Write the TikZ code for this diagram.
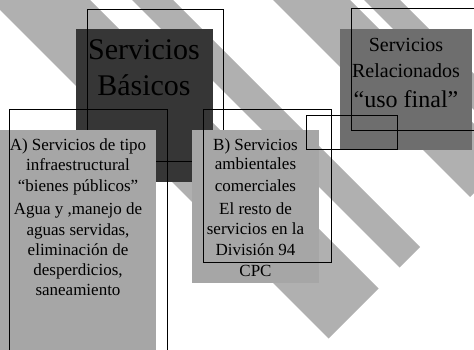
\documentclass[tikz,border=0pt]{standalone}
\usepackage{fontspec}
\setmainfont{Liberation Serif}
\definecolor{stripegray}{HTML}{B0B0B0}
\definecolor{panelgray}{HTML}{A6A6A6}
\definecolor{darkbox}{HTML}{363636}
\definecolor{midbox}{HTML}{6E6E6E}
\tikzset{
  stripe/.style={fill=stripegray, draw=none},
  panel/.style={draw=none, inner sep=0pt, outer sep=0pt, anchor=north west},
  frame/.style={draw=black, line width=0.9pt},
  txt/.style={anchor=base, inner sep=0pt, text=black},
  small/.style={txt, font=\fontsize{17}{20}\selectfont},
  mid/.style={txt, font=\fontsize{20}{24}\selectfont},
  big/.style={txt, font=\fontsize{30}{36}\selectfont},
}
\begin{document}
\begin{tikzpicture}[x=1pt,y=-1pt]
\useasboundingbox (0,0) rectangle (474,350);
\clip (0,0) rectangle (474,350);
% background stripes
\fill[stripe] (-20,-10) -- (80,-10) -- (378.5,288.5) -- (328.5,338.5) -- cycle;
\fill[stripe] (122,-10) -- (163,-10) -- (420,247) -- (399.5,267.5) -- cycle;
\fill[stripe] (263,-10) -- (340,-10) -- (508.5,158.5) -- (470,197) -- cycle;
\fill[stripe] (354,-10) -- (390,-10) -- (600,200) -- (564,200) -- cycle;
% dark box and its frame
\node[panel, fill=darkbox, minimum width=137, minimum height=153] (dark) at (76,29) {};
\draw[frame] (87,9) rectangle (223,161);
% medium box
\node[panel, fill=midbox, minimum width=132, minimum height=121] (rel) at (340,29) {};
% grey panels
\node[panel, fill=panelgray, minimum width=156, minimum height=230] (pa) at (0,130) {};
\node[panel, fill=panelgray, minimum width=127, minimum height=153] (pb) at (192,130) {};
% frames
\draw[frame] (9,109) rectangle (167,360);
\draw[frame] (203,109) rectangle (331,262);
\draw[frame] (351,8) rectangle (490,130);
\draw[frame] (306,115) rectangle (397,149);
% texts
\node[big] (d1) at (144,60) {Servicios};
\node[big] (d2) at (144,96) {Básicos};
\node[mid] (c1) at (406,52) {Servicios};
\node[mid] (c2) at (406,78) {Relacionados};
\node[txt, font=\fontsize{24}{28}\selectfont] (c3) at (406,108) {“uso final”};
\node[small] (a1) at (78,151) {A) Servicios de tipo};
\node[small] (a2) at (78,171) {infraestructural};
\node[small] (a3) at (78,192) {“bienes públicos”};
\node[small] (a4) at (78,214) {Agua y ,manejo de};
\node[small] (a5) at (78,235) {aguas servidas,};
\node[small] (a6) at (78,255) {eliminación de};
\node[small] (a7) at (78,275) {desperdicios,};
\node[small] (a8) at (78,295) {saneamiento};
\node[small] (b1) at (255.5,150) {B) Servicios};
\node[small] (b2) at (255.5,170) {ambientales};
\node[small] (b3) at (255.5,191) {comerciales};
\node[small] (b4) at (255.5,214) {El resto de};
\node[small] (b5) at (255.5,234) {servicios en la};
\node[small] (b6) at (255.5,255) {División 94};
\node[small] (b7) at (255.5,276) {CPC};
\end{tikzpicture}
\end{document}
